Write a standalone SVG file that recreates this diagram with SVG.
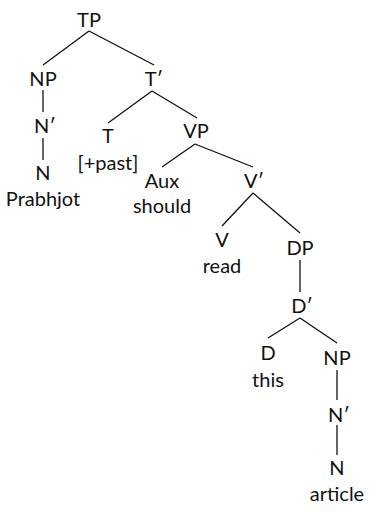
<svg xmlns="http://www.w3.org/2000/svg" width="381" height="511" viewBox="0 0 381 511">
<style>
text{font-family:Lato,"Liberation Sans","DejaVu Sans",sans-serif;font-size:20px;fill:#111;text-anchor:middle}
.e line{stroke:#111;stroke-width:1.3}
</style>
<rect width="381" height="511" fill="#fff"/>
<g class="e" id="connectors">
<line x1="89" y1="31" x2="43" y2="65"/>
<line x1="89" y1="31" x2="154" y2="65"/>
<line x1="43" y1="90" x2="43" y2="112"/>
<line x1="43" y1="138" x2="43" y2="160"/>
<line x1="152" y1="91" x2="108" y2="123"/>
<line x1="152" y1="91" x2="197" y2="118"/>
<line x1="195" y1="144" x2="162" y2="167"/>
<line x1="195" y1="144" x2="253" y2="167"/>
<line x1="253" y1="193" x2="222" y2="226"/>
<line x1="253" y1="193" x2="300" y2="233"/>
<line x1="300" y1="260" x2="300" y2="292"/>
<line x1="300" y1="318" x2="268" y2="338"/>
<line x1="300" y1="318" x2="337" y2="343"/>
<line x1="337" y1="370" x2="337" y2="400"/>
<line x1="337" y1="425" x2="337" y2="455"/>
</g>
<g id="TP"><text x="89" y="26.5">TP</text></g>
<g id="NP1"><text x="43" y="86">NP</text></g>
<g id="Tbar"><text x="154" y="86">T′</text></g>
<g id="Nbar1"><text x="45" y="133">N′</text></g>
<g id="T"><text x="108" y="143">T</text><text x="108" y="170">[+past]</text></g>
<g id="VP"><text x="196" y="138">VP</text></g>
<g id="N1"><text x="43" y="180">N</text><text x="43" y="206">Prabhjot</text></g>
<g id="Aux"><text x="162" y="188">Aux</text><text x="162" y="213">should</text></g>
<g id="Vbar"><text x="254" y="188">V′</text></g>
<g id="V"><text x="222" y="247">V</text><text x="222" y="273">read</text></g>
<g id="DP"><text x="300" y="255">DP</text></g>
<g id="Dbar"><text x="302" y="313">D′</text></g>
<g id="D"><text x="268" y="360">D</text><text x="268" y="387">this</text></g>
<g id="NP2"><text x="337" y="365">NP</text></g>
<g id="Nbar2"><text x="339" y="422">N′</text></g>
<g id="N2"><text x="337" y="475">N</text><text x="337" y="501">article</text></g>
</svg>
